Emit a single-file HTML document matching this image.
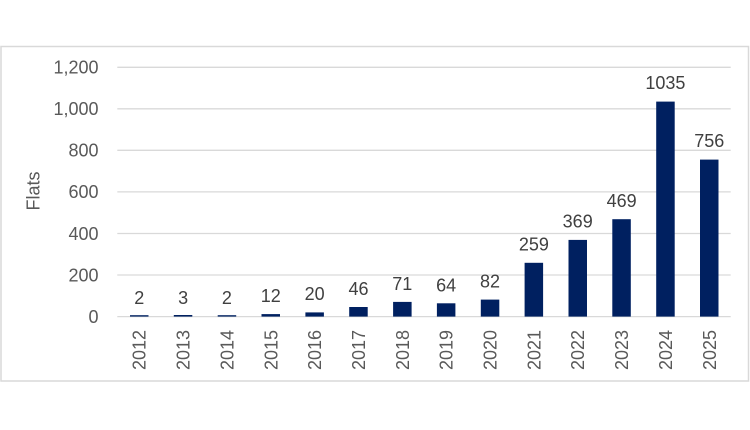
<!DOCTYPE html>
<html><head><meta charset="utf-8"><style>
html,body{margin:0;padding:0;background:#fff;width:750px;height:430px;overflow:hidden}
svg{display:block}
text{font-family:"Liberation Sans",Arial,sans-serif;font-size:18px}
</style></head><body>
<svg width="750" height="430" viewBox="0 0 750 430" xmlns="http://www.w3.org/2000/svg">
<rect x="0" y="0" width="750" height="430" fill="#fff"/>
<rect x="1" y="46.5" width="747.5" height="334.5" fill="#fff" stroke="#d9d9d9" stroke-width="1.5"/>
<g stroke="#d9d9d9" stroke-width="1.3">
<line x1="117.3" y1="67.3" x2="730.7" y2="67.3"/>
<line x1="117.3" y1="108.8" x2="730.7" y2="108.8"/>
<line x1="117.3" y1="150.3" x2="730.7" y2="150.3"/>
<line x1="117.3" y1="191.9" x2="730.7" y2="191.9"/>
<line x1="117.3" y1="233.5" x2="730.7" y2="233.5"/>
<line x1="117.3" y1="275.0" x2="730.7" y2="275.0"/>
<line x1="117.3" y1="316.6" x2="730.7" y2="316.6"/>
</g>
<g fill="#595959" text-anchor="end">
<text x="98.5" y="73.6">1,200</text>
<text x="98.5" y="115.1">1,000</text>
<text x="98.5" y="156.6">800</text>
<text x="98.5" y="198.2">600</text>
<text x="98.5" y="239.8">400</text>
<text x="98.5" y="281.3">200</text>
<text x="98.5" y="322.9">0</text>
</g>
<text fill="#595959" text-anchor="middle" transform="translate(39.5,191) rotate(-90)">Flats</text>
<g fill="#002060">
<rect x="130.0" y="315.2" width="18.5" height="1.4"/>
<rect x="173.8" y="315.0" width="18.5" height="1.6"/>
<rect x="217.7" y="315.2" width="18.5" height="1.4"/>
<rect x="261.5" y="314.1" width="18.5" height="2.5"/>
<rect x="305.4" y="312.4" width="18.5" height="4.2"/>
<rect x="349.2" y="307.0" width="18.5" height="9.6"/>
<rect x="393.1" y="301.9" width="18.5" height="14.7"/>
<rect x="436.9" y="303.3" width="18.5" height="13.3"/>
<rect x="480.8" y="299.6" width="18.5" height="17.0"/>
<rect x="524.6" y="262.8" width="18.5" height="53.8"/>
<rect x="568.5" y="239.9" width="18.5" height="76.7"/>
<rect x="612.3" y="219.2" width="18.5" height="97.4"/>
<rect x="656.2" y="101.6" width="18.5" height="215.0"/>
<rect x="700.0" y="159.6" width="18.5" height="157.0"/>
</g>
<g fill="#404040" text-anchor="middle">
<text x="139.2" y="304">2</text>
<text x="183.1" y="304">3</text>
<text x="226.9" y="304">2</text>
<text x="270.8" y="302">12</text>
<text x="314.6" y="300">20</text>
<text x="358.5" y="295">46</text>
<text x="402.3" y="290">71</text>
<text x="446.2" y="291.5">64</text>
<text x="490.0" y="287.5">82</text>
<text x="533.9" y="250.5">259</text>
<text x="577.7" y="227.5">369</text>
<text x="621.6" y="207">469</text>
<text x="665.4" y="89">1035</text>
<text x="709.3" y="147">756</text>
</g>
<g fill="#595959" text-anchor="end">
<text transform="translate(145.7,330) rotate(-90)">2012</text>
<text transform="translate(189.6,330) rotate(-90)">2013</text>
<text transform="translate(233.4,330) rotate(-90)">2014</text>
<text transform="translate(277.3,330) rotate(-90)">2015</text>
<text transform="translate(321.1,330) rotate(-90)">2016</text>
<text transform="translate(365.0,330) rotate(-90)">2017</text>
<text transform="translate(408.8,330) rotate(-90)">2018</text>
<text transform="translate(452.7,330) rotate(-90)">2019</text>
<text transform="translate(496.5,330) rotate(-90)">2020</text>
<text transform="translate(540.4,330) rotate(-90)">2021</text>
<text transform="translate(584.2,330) rotate(-90)">2022</text>
<text transform="translate(628.1,330) rotate(-90)">2023</text>
<text transform="translate(671.9,330) rotate(-90)">2024</text>
<text transform="translate(715.8,330) rotate(-90)">2025</text>
</g>
</svg>
</body></html>
